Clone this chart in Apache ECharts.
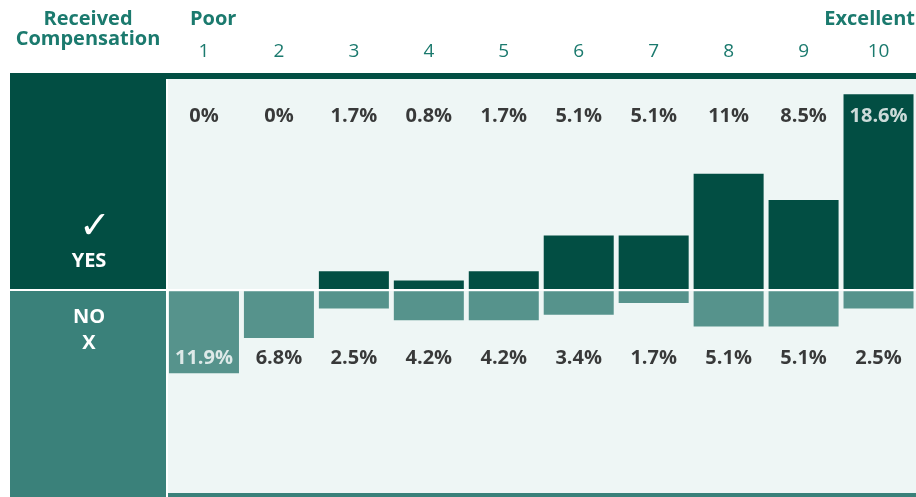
<!DOCTYPE html>
<html><head><meta charset="utf-8">
<script src="https://cdn.jsdelivr.net/npm/echarts@6/dist/echarts.min.js"></script>
<style>html,body{margin:0;padding:0;background:#fff}#c{width:916px;height:497px}</style>
</head><body><div id="c"></div>
<script>
const categories = ['1','2','3','4','5','6','7','8','9','10'];
const yesValues = [0, 0, 1.7, 0.8, 1.7, 5.1, 5.1, 11, 8.5, 18.6];
const noValues = [11.9, 6.8, 2.5, 4.2, 4.2, 3.4, 1.7, 5.1, 5.1, 2.5];
const yesLabels = ['0%','0%','1.7%','0.8%','1.7%','5.1%','5.1%','11%','8.5%','18.6%'];
const noLabels = ['11.9%','6.8%','2.5%','4.2%','4.2%','3.4%','1.7%','5.1%','5.1%','2.5%'];

const DARK = '#024e43', TEAL = '#3a817a', NOBAR = '#56938c', BG = '#eef6f5', HEAD = '#1b7a6e';
const FONT = '"Open Sans", sans-serif';
const YES_ROW = 16.5, NO_ROW = 9.7;

const chart = echarts.init(document.getElementById('c'), null, {renderer: 'canvas'});

function rowLabels(values, labels, row) {
  return values.map((v, i) => ({
    value: [i, row],
    label: { formatter: labels[i], color: v > row - 0.9 ? '#ffffff' : '#0a0a0a' }
  }));
}

chart.setOption({
  animation: false,
  graphic: [
    {type: 'rect', z: -10, shape: {x: 168, y: 79, width: 748, height: 210}, style: {fill: BG}},
    {type: 'rect', z: -10, shape: {x: 168, y: 291, width: 748, height: 202}, style: {fill: BG}},
    {type: 'rect', z: -10, shape: {x: 10, y: 73, width: 906, height: 6}, style: {fill: DARK}},
    {type: 'rect', z: -10, shape: {x: 10, y: 73, width: 156, height: 216}, style: {fill: DARK}},
    {type: 'rect', z: -10, shape: {x: 10, y: 291, width: 156, height: 206}, style: {fill: TEAL}},
    {type: 'rect', z: -10, shape: {x: 168, y: 493, width: 748, height: 4}, style: {fill: TEAL}},
    {type: 'text', style: {text: 'Received', x: 88, y: 19, align: 'center', verticalAlign: 'middle', font: 'bold 20px ' + FONT, fill: HEAD}},
    {type: 'text', style: {text: 'Compensation', x: 88, y: 39, align: 'center', verticalAlign: 'middle', font: 'bold 20px ' + FONT, fill: HEAD}},
    {type: 'text', style: {text: 'Poor', x: 190, y: 19, align: 'left', verticalAlign: 'middle', font: 'bold 20px ' + FONT, fill: HEAD}},
    {type: 'text', style: {text: 'Excellent', x: 915, y: 19, align: 'right', verticalAlign: 'middle', font: 'bold 20px ' + FONT, fill: HEAD}},
    {type: 'text', style: {text: '✓', x: 95, y: 228, align: 'center', verticalAlign: 'middle', font: '38px "DejaVu Sans"', fill: '#fff'}},
    {type: 'text', style: {text: 'YES', x: 89, y: 261, align: 'center', verticalAlign: 'middle', font: 'bold 20px ' + FONT, fill: '#fff'}},
    {type: 'text', style: {text: 'NO', x: 89, y: 317, align: 'center', verticalAlign: 'middle', font: 'bold 20px ' + FONT, fill: '#fff'}},
    {type: 'text', style: {text: 'X', x: 89, y: 343, align: 'center', verticalAlign: 'middle', font: 'bold 20px ' + FONT, fill: '#fff'}}
  ],
  grid: [
    {left: 166.5, width: 751, top: 79.6, height: 209.4, containLabel: false},
    {left: 166.5, width: 751, top: 291.3, height: 201.7, containLabel: false}
  ],
  xAxis: [
    {type: 'category', gridIndex: 0, data: categories, position: 'top',
     axisLine: {show: false}, axisTick: {show: false},
     axisLabel: {margin: 19, color: HEAD, fontSize: 19, fontFamily: FONT, fontWeight: 'normal'}},
    {type: 'category', gridIndex: 1, data: categories, show: false}
  ],
  yAxis: [
    {type: 'value', gridIndex: 0, min: 0, max: 20, show: false, splitLine: {show: false}},
    {type: 'value', gridIndex: 1, min: 0, max: 29.32, inverse: true, show: false, splitLine: {show: false}}
  ],
  series: [
    {type: 'bar', name: 'Yes', xAxisIndex: 0, yAxisIndex: 0, data: yesValues, barWidth: 70,
     itemStyle: {color: DARK}, silent: true},
    {type: 'bar', name: 'No', xAxisIndex: 1, yAxisIndex: 1, data: noValues, barWidth: 70,
     itemStyle: {color: NOBAR}, silent: true},
    {type: 'scatter', xAxisIndex: 0, yAxisIndex: 0, symbolSize: 0, z: 5, silent: true,
     data: rowLabels(yesValues, yesLabels, YES_ROW),
     label: {show: true, position: 'inside', fontSize: 20, fontWeight: 'bold', fontFamily: FONT}},
    {type: 'scatter', xAxisIndex: 1, yAxisIndex: 1, symbolSize: 0, z: 5, silent: true,
     data: rowLabels(noValues, noLabels, NO_ROW),
     label: {show: true, position: 'inside', fontSize: 20, fontWeight: 'bold', fontFamily: FONT}}
  ]
});
</script></body></html>
